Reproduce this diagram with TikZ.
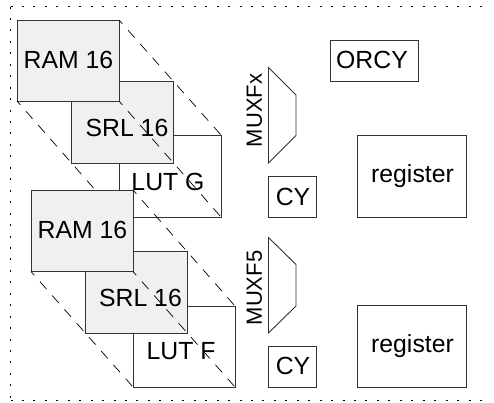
\documentclass[tikz,border=0pt]{standalone}
\usepackage{fontspec}
\setmainfont{Liberation Sans}
\tikzset{
  boxw/.style={draw=black!80,fill=white,line width=0.9pt,inner sep=0pt,outer sep=0pt,anchor=north west},
  boxg/.style={boxw,fill=black!6},
  lbl/.style={inner sep=0pt,font=\fontsize{24.8}{25}\selectfont,text=black},
  lblm/.style={inner sep=0pt,font=\fontsize{22}{22}\selectfont,text=black,rotate=90},
  dsh/.style={black,line width=0.7pt,dash pattern=on 10pt off 8.5pt,dash phase=5pt},
  dots/.style={black,line width=0.9pt,dash pattern=on 2pt off 9.45pt},
  mux/.style={draw=black!80,line width=0.9pt,line join=miter}
}
\begin{document}
\begin{tikzpicture}[x=1pt,y=-1pt]
\useasboundingbox (0,0) rectangle (494,402);
\coordinate (tr) at (490,6.5);
\coordinate (tl) at (10.5,6.5);
\coordinate (bl) at (10.5,400.5);
\coordinate (br) at (490,400.5);
\draw[dots] (tl) -- (tr);
\draw[dots] (tl) -- (bl);
\draw[dots] (bl) -- (br);
% upper stack
\node[boxw,minimum width=102pt,minimum height=82pt] (lutg) at (119,135) {};
\node[boxg,minimum width=102pt,minimum height=82pt] (srlg) at (71,81) {};
\node[boxg,minimum width=102pt,minimum height=81pt] (ramg) at (17,20) {};
\node[lbl] (tramg) at (68.5,60) {RAM 16};
\node[lbl] (tsrlg) at (127,127.5) {SRL 16};
\node[lbl] (tlutg) at (168,181.5) {LUT G};
\draw[dsh] (ramg.north east) -- (lutg.north east);
\draw[dsh] (ramg.south east) -- (lutg.south east);
\draw[dsh] (ramg.south west) -- (lutg.south west);
% lower stack
\node[boxw,minimum width=102pt,minimum height=81pt] (lutf) at (133,306) {};
\node[boxg,minimum width=102pt,minimum height=82pt] (srlf) at (85,251) {};
\node[boxg,minimum width=102pt,minimum height=81.5pt] (ramf) at (31,190) {};
\node[lbl] (tramf) at (82.5,230) {RAM 16};
\node[lbl] (tsrlf) at (140.5,297.5) {SRL 16};
\node[lbl] (tlutf) at (181,351.5) {LUT F};
\draw[dsh] (ramf.north east) -- (lutf.north east);
\draw[dsh] (ramf.south east) -- (lutf.south east);
\draw[dsh] (ramf.south west) -- (lutf.south west);
% muxes
\draw[mux] (268.5,67.5) -- (296,95) -- (296,135.5) -- (268.5,163) -- cycle;
\draw[mux] (268.5,237.5) -- (296,264.5) -- (296,306) -- (268.5,333) -- cycle;
\node[lblm] (mx) at (254.5,110.5) {MUXFx};
\node[lblm] (m5) at (254.5,288) {MUXF5};
% right column
\node[boxw,minimum width=88pt,minimum height=41pt] (orcy) at (330,40.5) {};
\node[lbl] (torcy) at (372,60) {ORCY};
\node[boxw,minimum width=48pt,minimum height=41pt] (cyg) at (268.5,176.5) {};
\node[lbl] (tcyg) at (293,197) {CY};
\node[boxw,minimum width=48pt,minimum height=41pt] (cyf) at (268.5,346.5) {};
\node[lbl] (tcyf) at (293,366) {CY};
\node[boxw,minimum width=109pt,minimum height=82pt] (regg) at (357,135.5) {};
\node[lbl] (tregg) at (412.5,176) {register};
\node[boxw,minimum width=109pt,minimum height=82pt] (regf) at (357,305.5) {};
\node[lbl] (tregf) at (412.5,346) {register};
\end{tikzpicture}
\end{document}
